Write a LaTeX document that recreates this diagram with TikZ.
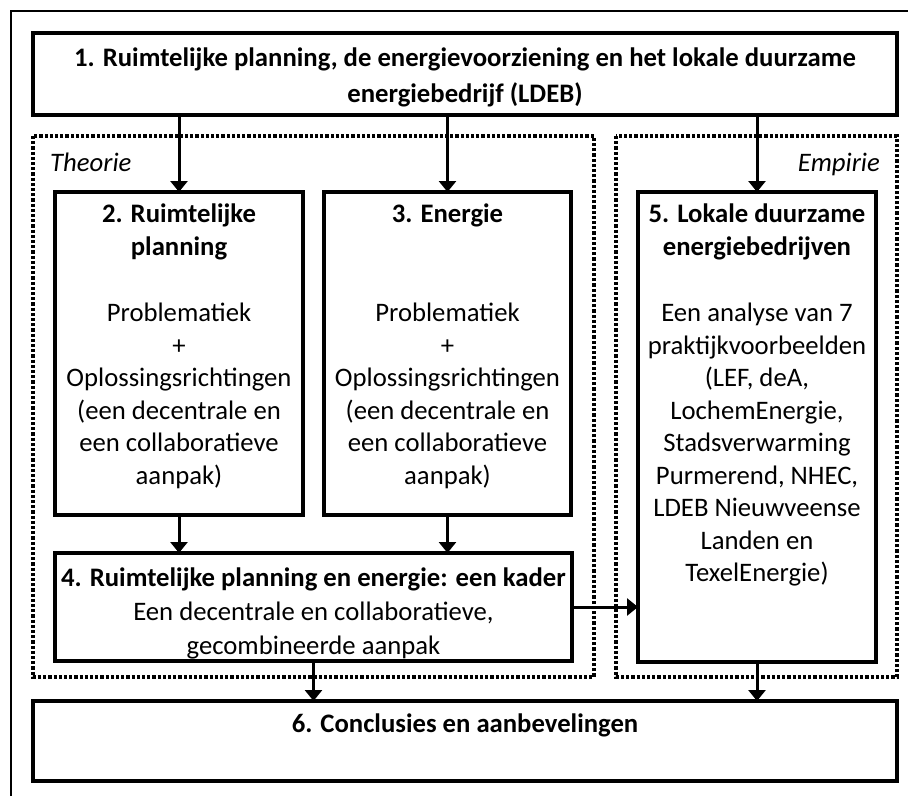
\documentclass[tikz,border=0pt]{standalone}
\usepackage{fontspec}
\setmainfont{Carlito}
\usetikzlibrary{arrows.meta,calc}

\begin{document}
\begin{tikzpicture}[x=1pt,y=-1pt,
  box/.style={draw=black,line width=3.2pt,fill=none,inner sep=0pt,outer sep=0pt},
  txt/.style={inner sep=0pt,align=center,anchor=north,
    font=\fontsize{26.7}{32.5}\selectfont},
  group/.style={draw=black,line width=3.2pt,dash pattern=on 3.2pt off 2pt},
  glabel/.style={inner sep=0pt,anchor=base west,
    font=\fontsize{26.7}{32.5}\selectfont\itshape},
  flow/.style={line width=3pt,-{Triangle[width=17pt,length=11pt]}},
  frame/.style={line width=1.6pt}
]
\useasboundingbox (0,0) rectangle (908,796);

% page frame
\draw[frame] (11,796) -- (11,11) -- (908,11);

% dotted groupings
\draw[group] (33,136) rectangle (594,677);
\draw[group] (616,136) rectangle (897,677);
\node[glabel] (theorie) at (50,171) {Theorie};
\node[glabel,anchor=base east] (empirie) at (880,171) {Empirie};

% boxes
\node[box,minimum width=864pt,minimum height=82pt] (b1) at (465,74) {};
\node[box,minimum width=248pt,minimum height=323pt] (b2) at (179,353.5) {};
\node[box,minimum width=247pt,minimum height=323pt] (b3) at (447.5,353.5) {};
\node[box,minimum width=238pt,minimum height=470pt] (b5) at (757,427) {};
\node[box,minimum width=517pt,minimum height=108pt] (b4) at (313.5,607) {};
\node[box,minimum width=864pt,minimum height=80pt] (b6) at (465,741) {};

% box texts
\node[txt] (t1) at ($(b1.north)+(0,15)$)
  {\textbf{1. Ruimtelijke planning, de energievoorziening en het lokale duurzame}\\[3pt]
   \textbf{energiebedrijf (LDEB)}};
\node[txt] (t2) at ($(b2.north)+(0,12)$)
  {\textbf{2. Ruimtelijke}\\ \textbf{planning}\\[34pt]
   Problematiek\\+\\Oplossingsrichtingen\\(een decentrale en\\een collaboratieve\\aanpak)};
\node[txt] (t3) at ($(b3.north)+(0,12)$)
  {\textbf{3. Energie}\\[66.5pt]
   Problematiek\\+\\Oplossingsrichtingen\\(een decentrale en\\een collaboratieve\\aanpak)};
\node[txt] (t5) at ($(b5.north)+(0,12)$)
  {\textbf{5. Lokale duurzame}\\ \textbf{energiebedrijven}\\[34pt]
   Een analyse van 7\\praktijkvoorbeelden\\(LEF, deA,\\LochemEnergie,\\Stadsverwarming\\
   Purmerend, NHEC,\\LDEB Nieuwveense\\Landen en\\TexelEnergie)};
\node[txt] (t4) at ($(b4.north)+(0,15)$)
  {\textbf{4. Ruimtelijke planning en energie: een kader}\\[1.5pt]
   Een decentrale en collaboratieve,\\[1.5pt]gecombineerde aanpak};
\node[txt] (t6) at ($(b6.north)+(0,13)$)
  {\textbf{6. Conclusies en aanbevelingen}};

% connectors
\draw[flow] (b2.north |- b1.south) -- (b2.north);
\draw[flow] (b3.north |- b1.south) -- (b3.north);
\draw[flow] (b5.north |- b1.south) -- (b5.north);
\draw[flow] (b2.south) -- (b2.south |- b4.north);
\draw[flow] (b3.south) -- (b3.south |- b4.north);
\draw[flow] (b4.east) -- (b5.west |- b4.east);
\draw[flow] (b4.south) -- (b4.south |- b6.north);
\draw[flow] (b5.south) -- (b5.south |- b6.north);
\end{tikzpicture}
\end{document}
